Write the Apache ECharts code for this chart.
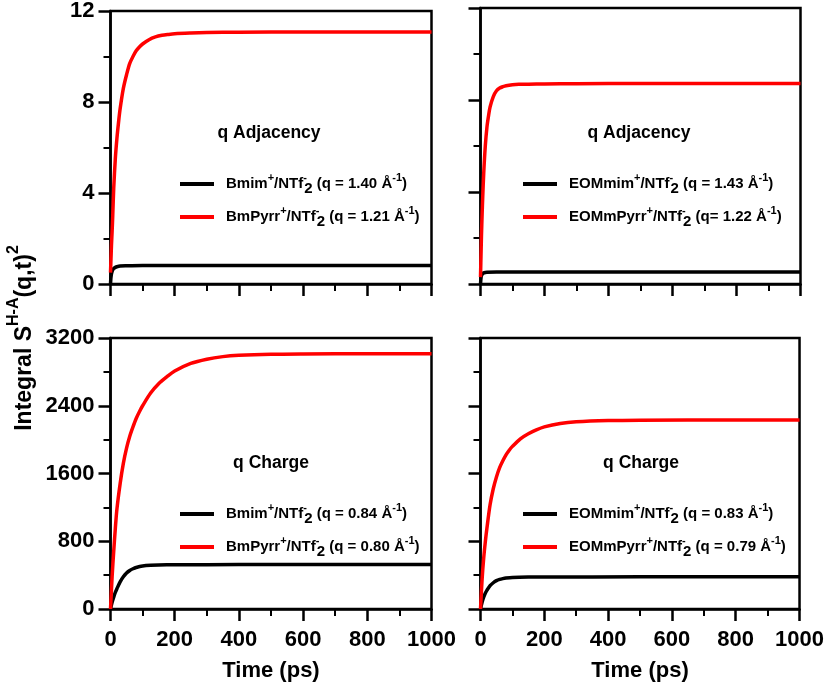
<!DOCTYPE html>
<html>
<head>
<meta charset="utf-8">
<script src="https://cdn.jsdelivr.net/npm/echarts@6/dist/echarts.min.js"></script>
<style>html,body{margin:0;padding:0;background:#fff;}#c{width:827px;height:683px;}</style>
</head>
<body>
<div id="c"></div>
<script>
// ---- data ----
const xTicks = [0, 200, 400, 600, 800, 1000];
const yTicksTop = [0, 4, 8, 12];
const yTicksBottom = [0, 800, 1600, 2400, 3200];

// Top-left: q Adjacency, Bmim / BmPyrr
const tTL_red = [0,1,2,3,5,7,10,15,20,25,30,40,50,60,70,80,90,100,120,140,160,180,200,250,300,400,600,800,1000];
const vTL_red = [0.5,0.9,1.3,1.7,2.3,3.0,4.2,5.5,6.4,7.1,7.7,8.6,9.2,9.7,10.0,10.25,10.42,10.55,10.74,10.86,10.93,10.97,11.0,11.03,11.05,11.07,11.08,11.08,11.08];
const tTL_blk = [0,1,2,3,5,7,10,15,20,30,50,100,200,400,600,800,1000];
const vTL_blk = [0.0,0.22,0.35,0.44,0.55,0.62,0.68,0.73,0.76,0.79,0.80,0.81,0.81,0.81,0.81,0.81,0.81];

// Top-right: q Adjacency, EOMmim / EOMmPyrr
const tTR_red = [0,1,2,3,5,7,10,15,20,25,30,40,50,60,70,80,100,120,150,200,300,500,800,1000];
const vTR_red = [0.3,0.9,1.5,2.1,3.0,3.8,4.8,6.0,6.8,7.3,7.7,8.15,8.4,8.52,8.58,8.62,8.66,8.68,8.69,8.7,8.71,8.72,8.72,8.72];
const tTR_blk = [0,1,2,3,5,7,10,15,20,50,100,200,500,800,1000];
const vTR_blk = [0.0,0.18,0.3,0.36,0.42,0.45,0.48,0.50,0.51,0.52,0.52,0.52,0.52,0.52,0.52];

// Bottom-left: q Charge, Bmim / BmPyrr
const tBL_red = [0,5,10,15,20,30,40,50,60,70,80,90,100,125,150,175,200,250,300,350,400,500,600,800,1000];
const vBL_red = [0,380,680,950,1180,1480,1720,1900,2040,2150,2250,2330,2400,2550,2660,2740,2810,2900,2950,2980,2995,3008,3012,3015,3015];
const tBL_blk = [0,5,10,15,20,30,40,50,60,70,80,100,125,150,200,300,500,800,1000];
const vBL_blk = [0,80,140,195,240,320,380,425,455,475,490,508,517,520,522,523,525,525,525];

// Bottom-right: q Charge, EOMmim / EOMmPyrr
const tBR_red = [0,5,10,15,20,30,40,50,60,70,80,90,100,125,150,175,200,250,300,400,500,800,1000];
const vBR_red = [0,350,600,790,950,1230,1420,1560,1670,1750,1820,1875,1920,2010,2070,2115,2150,2190,2210,2225,2230,2232,2232];
const tBR_blk = [0,5,10,15,20,30,40,50,60,70,80,100,150,200,500,800,1000];
const vBR_blk = [0,80,140,185,220,275,310,335,350,359,365,372,377,378,380,380,380];

const panelTitles = ['q Adjacency', 'q Adjacency', 'q Charge', 'q Charge'];
const seriesNames = [
  ['Bmim+/NTf2- (q = 1.40 Å-1)', 'BmPyrr+/NTf2- (q = 1.21 Å-1)'],
  ['EOMmim+/NTf2- (q = 1.43 Å-1)', 'EOMmPyrr+/NTf2- (q= 1.22 Å-1)'],
  ['Bmim+/NTf2- (q = 0.84 Å-1)', 'BmPyrr+/NTf2- (q = 0.80 Å-1)'],
  ['EOMmim+/NTf2- (q = 0.83 Å-1)', 'EOMmPyrr+/NTf2- (q = 0.79 Å-1)']
];
const legendRich = [
  ['{t|Bmim}{sup|+}{t|/NTf}{supz|-}{sub|2}{t| (q = 1.40 Å}{sup|-1}{t|)}', '{t|BmPyrr}{sup|+}{t|/NTf}{supz|-}{sub|2}{t| (q = 1.21 Å}{sup|-1}{t|)}'],
  ['{t|EOMmim}{sup|+}{t|/NTf}{supz|-}{sub|2}{t| (q = 1.43 Å}{sup|-1}{t|)}', '{t|EOMmPyrr}{sup|+}{t|/NTf}{supz|-}{sub|2}{t| (q= 1.22 Å}{sup|-1}{t|)}'],
  ['{t|Bmim}{sup|+}{t|/NTf}{supz|-}{sub|2}{t| (q = 0.84 Å}{sup|-1}{t|)}', '{t|BmPyrr}{sup|+}{t|/NTf}{supz|-}{sub|2}{t| (q = 0.80 Å}{sup|-1}{t|)}'],
  ['{t|EOMmim}{sup|+}{t|/NTf}{supz|-}{sub|2}{t| (q = 0.83 Å}{sup|-1}{t|)}', '{t|EOMmPyrr}{sup|+}{t|/NTf}{supz|-}{sub|2}{t| (q = 0.79 Å}{sup|-1}{t|)}']
];

// ---- build chart ----
const FONT = '"Liberation Sans", Arial, Helvetica, sans-serif';
const zip = (t, v) => t.map((x, i) => [x, v[i]]);
const panelData = [
  [zip(tTL_blk, vTL_blk), zip(tTL_red, vTL_red)],
  [zip(tTR_blk, vTR_blk), zip(tTR_red, vTR_red)],
  [zip(tBL_blk, vBL_blk), zip(tBL_red, vBL_red)],
  [zip(tBR_blk, vBR_blk), zip(tBR_red, vBR_red)]
];
const colors = ['#000000', '#ff0000'];

const gridPos = [
  {left: 110.5, top: 8, width: 321, height: 276},
  {left: 480.5, top: 8, width: 320, height: 276},
  {left: 110.5, top: 338, width: 321, height: 275},
  {left: 480.5, top: 338, width: 320, height: 275}
];
const legendPos = [
  {left: 180, top: 172},
  {left: 523, top: 172},
  {left: 180, top: 502},
  {left: 523, top: 502}
];
const titlePos = [[269, 133], [639, 133], [271, 463], [641, 463]];

const richStyles = {
  t: {fontFamily: FONT, fontWeight: 'bold', fontSize: 15, color: '#000', lineHeight: 24, verticalAlign: 'middle'},
  sup: {fontFamily: FONT, fontWeight: 'bold', fontSize: 11, color: '#000', lineHeight: 11, verticalAlign: 'top'},
  supz: {fontFamily: FONT, fontWeight: 'bold', fontSize: 11, color: '#000', lineHeight: 11, verticalAlign: 'top', width: 1, align: 'left', overflow: 'none'},
  sub: {fontFamily: FONT, fontWeight: 'bold', fontSize: 15, color: '#000', lineHeight: 15, verticalAlign: 'bottom'}
};

const grids = [], xAxes = [], yAxes = [], series = [], legends = [], graphics = [];
for (let p = 0; p < 4; p++) {
  const bottom = p >= 2;
  grids.push(Object.assign({show: true, borderColor: '#000', borderWidth: 2.5, backgroundColor: 'transparent', containLabel: false}, gridPos[p]));
  xAxes.push({
    type: 'value', gridIndex: p, min: xTicks[0], max: xTicks[xTicks.length - 1], interval: xTicks[1] - xTicks[0],
    axisLine: {show: true, onZero: false, lineStyle: {color: '#000', width: 2.5}},
    axisTick: {show: true, inside: false, length: 12, lineStyle: {color: '#000', width: 2.5}},
    minorTick: {show: true, splitNumber: 2, length: 7, lineStyle: {color: '#000', width: 2}},
    splitLine: {show: false},
    axisLabel: {show: bottom, margin: 20, formatter: (v) => String(v), fontFamily: FONT, fontWeight: 'bold', fontSize: 22, color: '#000'},
    name: bottom ? 'Time (ps)' : '', nameLocation: 'middle', nameGap: 51,
    nameTextStyle: {fontFamily: FONT, fontWeight: 'bold', fontSize: 22, color: '#000'}
  });
  const yt = bottom ? yTicksBottom : yTicksTop;
  const left = (p % 2 === 0);
  yAxes.push({
    type: 'value', gridIndex: p, min: yt[0], max: yt[yt.length - 1], interval: yt[1] - yt[0],
    axisLine: {show: true, onZero: false, lineStyle: {color: '#000', width: 2.5}},
    axisTick: {show: true, inside: false, length: 12, lineStyle: {color: '#000', width: 2.5}},
    minorTick: {show: true, splitNumber: 2, length: 7, lineStyle: {color: '#000', width: 2}},
    splitLine: {show: false},
    axisLabel: {show: left, margin: 16, formatter: (v) => String(v), fontFamily: FONT, fontWeight: 'bold', fontSize: 22, color: '#000'}
  });
  for (let s = 0; s < 2; s++) {
    series.push({
      type: 'line', name: seriesNames[p][s], xAxisIndex: p, yAxisIndex: p,
      data: panelData[p][s], showSymbol: false, symbol: 'none', smooth: 0.3,
      lineStyle: {color: colors[s], width: 3.5}, itemStyle: {color: colors[s]}, z: s === 1 ? 3 : 2
    });
  }
  const map = {};
  map[seriesNames[p][0]] = legendRich[p][0];
  map[seriesNames[p][1]] = legendRich[p][1];
  legends.push(Object.assign({
    orient: 'vertical', data: seriesNames[p], icon: 'rect', itemWidth: 34, itemHeight: 4, itemGap: 9,
    selectedMode: false, padding: 0,
    formatter: (n) => map[n],
    textStyle: {padding: [0, 0, 0, 7], rich: richStyles}
  }, legendPos[p]));
  graphics.push({
    type: 'text', x: titlePos[p][0], y: titlePos[p][1],
    style: {text: panelTitles[p], font: 'bold 17.5px ' + FONT, fill: '#000', textAlign: 'center', textVerticalAlign: 'middle'}
  });
}
graphics.push({
  type: 'text', x: 21, y: 338, rotation: Math.PI / 2,
  style: {
    text: '{a|Integral S}{s|H-A}{a|(q,t)}{s|2}',
    align: 'center', verticalAlign: 'middle',
    rich: {
      a: {fontFamily: FONT, fontWeight: 'bold', fontSize: 23, fill: '#000', lineHeight: 30, verticalAlign: 'bottom'},
      s: {fontFamily: FONT, fontWeight: 'bold', fontSize: 16, fill: '#000', lineHeight: 16, verticalAlign: 'top'}
    }
  }
});

const chart = echarts.init(document.getElementById('c'), null, {renderer: 'canvas'});
chart.setOption({
  animation: false,
  backgroundColor: '#fff',
  grid: grids, xAxis: xAxes, yAxis: yAxes, series: series, legend: legends, graphic: graphics
});
</script>
</body>
</html>
